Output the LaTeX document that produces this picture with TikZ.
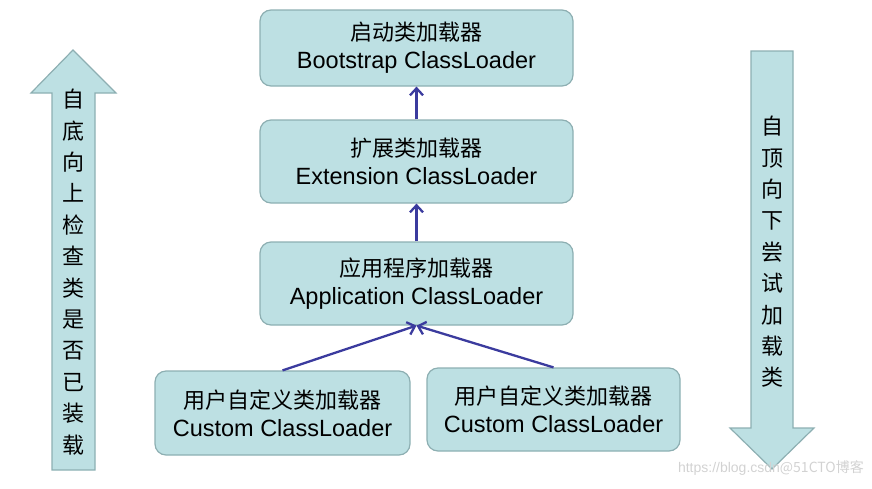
\documentclass[tikz,border=0pt]{standalone}
\usepackage{fontspec}
\setmainfont{Liberation Sans}
\newfontfamily\cjk{Noto Sans CJK SC}
\usetikzlibrary{arrows.meta}
\definecolor{boxfill}{HTML}{BDE0E3}
\definecolor{boxline}{HTML}{8DAFB2}
\definecolor{arrowblue}{HTML}{3B3B9E}
\definecolor{wm}{HTML}{D2D2D2}
\tikzset{
  loaderbox/.style={draw=boxline, fill=boxfill, line width=1.2pt, rounded corners=11pt,
    align=center, inner sep=0pt, font=\fontsize{23.5}{28}\selectfont},
  conn/.style={draw=arrowblue, line width=2.3pt, -{Straight Barb[length=7pt,width=13pt,line width=2.3pt]}},
  blockarrow/.style={draw=boxline, fill=boxfill, line width=1.2pt, line join=miter},
  vtext/.style={align=center, inner sep=0pt, font=\cjk\fontsize{22}{31.4}\selectfont}
}
\begin{document}
\begin{tikzpicture}[x=1pt,y=-1pt]
\useasboundingbox (0,0) rectangle (872,488);
% boxes
\node[loaderbox, minimum width=313pt, minimum height=76pt] (boot) at (416.5,48)
  {{\cjk\fontsize{22}{28}\selectfont 启动类加载器}\\Bootstrap ClassLoader};
\node[loaderbox, minimum width=313pt, minimum height=83pt] (ext) at (416.5,161.5)
  {{\cjk\fontsize{22}{28}\selectfont 扩展类加载器}\\Extension ClassLoader};
\node[loaderbox, minimum width=313pt, minimum height=83pt] (app) at (416.5,283.5)
  {{\cjk\fontsize{22}{28}\selectfont 应用程序加载器}\\Application ClassLoader};
\node[loaderbox, minimum width=255pt, minimum height=84pt] (cust1) at (282.5,413)
  {{\cjk\fontsize{22}{28}\selectfont 用户自定义类加载器}\\Custom ClassLoader};
\node[loaderbox, minimum width=253pt, minimum height=83pt] (cust2) at (553.5,409.5)
  {{\cjk\fontsize{22}{28}\selectfont 用户自定义类加载器}\\Custom ClassLoader};
% connectors
\draw[conn] (ext.north) -- (boot.south);
\draw[conn] (app.north) -- (ext.south);
\draw[conn] (cust1.north) -- (app.south);
\draw[conn] (cust2.north) -- (app.south);
% block arrows
\draw[blockarrow] (52,470) -- (52,93) -- (31,93) -- (73,50) -- (116,93) -- (95,93) -- (95,470) -- cycle;
\node[vtext] (uptext) at (73.5,272) {自\\底\\向\\上\\检\\查\\类\\是\\否\\已\\装\\载};
\draw[blockarrow] (751,51) -- (793,51) -- (793,428) -- (814,428) -- (772,469) -- (730,428) -- (751,428) -- cycle;
\node[vtext] (downtext) at (772,252) {自\\顶\\向\\下\\尝\\试\\加\\载\\类};
% watermark
\node[text=wm, inner sep=0pt, anchor=east, font=\fontsize{14}{16}\selectfont] (wmark) at (864,468) {https://blog.csdn{\cjk @51CTO博客}};
\end{tikzpicture}
\end{document}
